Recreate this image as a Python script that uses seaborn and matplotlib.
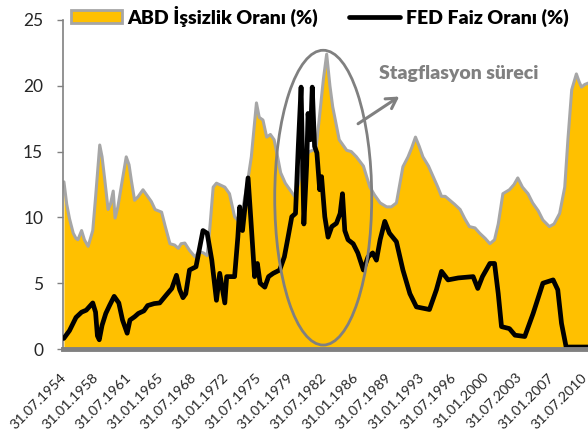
import numpy as np
import pandas as pd
import seaborn as sns
import matplotlib
matplotlib.use("Agg")
import matplotlib.pyplot as plt
from matplotlib.patches import Ellipse, Patch
from matplotlib.lines import Line2D

# ---------------- data ----------------
unemp_year = [1954.6, 1954.9, 1955.2, 1955.6, 1955.9, 1956.1, 1956.5, 1956.8, 1957.2, 1957.7,
              1958.0, 1958.45, 1958.7, 1959.0, 1959.35, 1959.6, 1959.9, 1960.1, 1960.4, 1960.8,
              1961.3, 1961.6, 1961.85, 1962.2, 1962.6, 1963.1, 1963.6, 1964.0, 1964.4, 1965.1,
              1965.5, 1966.0, 1966.5, 1966.9, 1967.2, 1967.6, 1968.1, 1968.7, 1969.1, 1969.6,
              1970.0, 1970.3, 1970.65, 1971.0, 1971.9, 1972.4, 1972.95, 1973.5, 1973.8, 1974.3,
              1974.75, 1975.3, 1975.6, 1976.0, 1976.4, 1976.8, 1977.2, 1977.6, 1977.9, 1978.4,
              1978.9, 1979.4, 1979.8, 1980.3, 1981.0, 1981.7, 1982.1, 1982.5, 1982.85, 1983.2,
              1983.5, 1984.2, 1985.0, 1985.5, 1986.05, 1986.8, 1987.5, 1988.0, 1988.6, 1989.3,
              1989.8, 1990.35, 1991.05, 1991.6, 1992.0, 1992.4, 1992.8, 1993.2, 1993.8, 1994.3,
              1994.8, 1995.2, 1995.6, 1996.1, 1996.6, 1997.2, 1997.7, 1998.2, 1998.8, 1999.3,
              1999.9, 2000.4, 2000.9, 2001.3, 2001.8, 2002.5, 2003.0, 2003.4, 2003.9, 2004.5,
              2005.0, 2005.6, 2006.1, 2006.8, 2007.3, 2007.9, 2008.45, 2008.8, 2009.2, 2009.7,
              2010.0, 2010.25, 2010.6, 2010.95]
unemp_rate = [12.7, 11.0, 9.9, 8.8, 8.4, 8.3, 9.0, 8.3, 7.8, 9.0,
              11.5, 15.5, 14.6, 12.8, 10.6, 11.0, 12.0, 9.95, 10.8, 12.5,
              14.6, 14.0, 12.8, 11.3, 11.6, 12.1, 11.6, 11.2, 10.6, 10.4,
              9.3, 8.0, 7.9, 7.65, 8.0, 8.05, 7.5, 7.0, 7.4, 7.3,
              7.1, 9.3, 12.3, 12.6, 12.3, 11.8, 10.05, 9.6, 10.6, 12.5,
              14.6, 18.7, 17.6, 17.4, 16.1, 16.3, 15.9, 14.5, 13.4, 12.6,
              12.1, 11.6, 12.5, 14.5, 15.0, 15.2, 17.8, 20.5, 22.4, 20.0,
              18.4, 15.9, 15.1, 15.0, 14.6, 13.9, 12.3, 11.7, 11.1, 10.8,
              10.8, 11.1, 13.85, 14.6, 15.3, 16.1, 15.4, 14.6, 13.9, 13.1,
              12.3, 11.6, 11.6, 11.3, 11.0, 10.6, 9.9, 9.3, 9.2, 8.8,
              8.4, 8.0, 8.3, 9.5, 11.8, 12.1, 12.5, 13.0, 12.3, 11.8,
              11.1, 10.5, 9.8, 9.3, 9.5, 10.3, 12.3, 16.0, 19.7, 20.9,
              20.3, 19.9, 20.1, 20.2]

fed_year = [1954.58, 1955.2, 1955.9, 1956.5, 1957.0, 1957.7, 1958.0, 1958.2, 1958.4, 1958.7,
            1959.1, 1959.5, 1960.0, 1960.5, 1960.9, 1961.4, 1961.7, 1962.2, 1962.6, 1963.2,
            1963.6, 1964.3, 1964.9, 1965.6, 1966.2, 1966.7, 1967.05, 1967.4, 1967.7, 1968.1,
            1968.8, 1969.55, 1970.0, 1970.5, 1971.0, 1971.35, 1971.9, 1972.1, 1972.95, 1973.3,
            1973.5, 1973.8, 1974.4, 1974.75, 1975.1, 1975.4, 1975.7, 1976.2, 1976.6, 1977.1,
            1977.8, 1978.3, 1978.7, 1979.1, 1979.5, 1979.8, 1980.1, 1980.4, 1980.7, 1980.85,
            1981.1, 1981.3, 1981.55, 1981.8, 1982.1, 1982.3, 1982.65, 1983.0, 1983.4, 1983.9,
            1984.3, 1984.55, 1984.8, 1985.15, 1985.7, 1986.2, 1986.8, 1987.3, 1987.8, 1988.2,
            1988.6, 1989.1, 1989.6, 1990.35, 1991.05, 1991.8, 1992.5, 1993.9, 1994.65, 1995.2,
            1995.9, 1997.0, 1998.6, 1999.1, 1999.6, 2000.4, 2000.9, 2001.3, 2001.65, 2002.5,
            2003.1, 2004.15, 2005.05, 2006.1, 2007.2, 2007.7, 2008.1, 2008.6, 2010.95]
fed_rate = [0.8, 1.4, 2.4, 2.8, 2.95, 3.5, 2.8, 1.0, 0.7, 1.8,
            2.7, 3.3, 4.0, 3.5, 2.2, 1.2, 2.2, 2.45, 2.7, 2.9,
            3.3, 3.45, 3.5, 4.1, 4.6, 5.6, 4.5, 3.9, 4.2, 6.0,
            6.25, 9.0, 8.8, 6.75, 3.7, 5.75, 3.5, 5.5, 5.5, 8.5,
            10.8, 9.0, 13.0, 9.3, 5.5, 6.5, 5.0, 4.7, 5.5, 5.75,
            6.0, 7.0, 8.5, 10.05, 10.3, 15.4, 19.9, 9.5, 14.0, 17.9,
            15.9, 19.9, 15.4, 14.9, 12.1, 13.1, 10.05, 8.5, 9.3, 9.55,
            10.3, 11.8, 9.0, 8.3, 8.0, 7.3, 6.0, 7.0, 7.3, 6.75,
            8.3, 9.7, 8.8, 8.15, 6.0, 4.2, 3.2, 3.0, 4.5, 5.9,
            5.25, 5.4, 5.5, 4.6, 5.5, 6.5, 6.5, 4.2, 1.7, 1.55,
            1.05, 0.95, 2.7, 5.0, 5.25, 4.5, 1.95, 0.15, 0.15]

tick_years = [1954.58 + 3.5 * i for i in range(17)]
tick_labels = ["31.07.1954", "31.01.1958", "31.07.1961", "31.01.1965", "31.07.1968",
               "31.01.1972", "31.07.1975", "31.01.1979", "31.07.1982", "31.01.1986",
               "31.07.1989", "31.01.1993", "31.07.1996", "31.01.2000", "31.07.2003",
               "31.01.2007", "31.07.2010"]

label_unemp = "ABD İşsizlik Oranı (%)"
label_fed = "FED Faiz Oranı (%)"
annot_text = "Stagflasyon süreci"

# ---------------- style ----------------
sns.set_theme(style="white")
plt.rcParams["font.family"] = ["Lato", "DejaVu Sans"]

W, H = 588, 437
fig = plt.figure(figsize=(W / 100, H / 100), dpi=100)
ax = fig.add_axes([63 / W, 1 - 349 / H, (W - 63) / W, (349 - 20) / H])

df_u = pd.DataFrame({"year": unemp_year, "rate": unemp_rate})
df_f = pd.DataFrame({"year": fed_year, "rate": fed_rate})

ORANGE = "#FFC000"
GREY = "#A6A6A6"
DGREY = "#808080"

ax.fill_between(df_u["year"], 0, df_u["rate"], color=ORANGE, lw=0, zorder=1)
sns.lineplot(data=df_u, x="year", y="rate", ax=ax, color=GREY, lw=2.2, zorder=2,
             estimator=None, sort=False)
sns.lineplot(data=df_f, x="year", y="rate", ax=ax, color="black", lw=3.4, zorder=3,
             estimator=None, sort=False, solid_joinstyle="round")

ax.set_xlim(1954.5, 2010.95)
ax.set_ylim(0, 25)
ax.set_yticks([0, 5, 10, 15, 20, 25])
ax.set_xticks(tick_years)
ax.set_xticklabels(tick_labels, rotation=45, ha="right", va="center",
                   rotation_mode="anchor", fontsize=10.3, color="#262626")
ax.tick_params(axis="x", length=0, pad=19)
ax.tick_params(axis="y", length=4.3, width=1, color=DGREY, direction="out",
               pad=10, labelsize=12.5, labelcolor="#262626", left=True)
ax.set_xlabel("")
ax.set_ylabel("")

for s in ["top", "right"]:
    ax.spines[s].set_visible(False)
ax.spines["left"].set_color(DGREY)
ax.spines["left"].set_linewidth(1.2)
ax.spines["bottom"].set_color(DGREY)
ax.spines["bottom"].set_linewidth(3.5)
ax.spines["bottom"].set_zorder(5)

# ellipse and arrow annotation
ell = Ellipse((1982.48, 11.5), 10.43, 22.4, fill=False, edgecolor=DGREY, lw=2, zorder=6)
ax.add_patch(ell)
ax.annotate("", xy=(1990.9, 19.3), xytext=(1985.98, 17.0),
            arrowprops=dict(arrowstyle="->,head_length=0.6,head_width=0.35",
                            color=DGREY, lw=2.2), zorder=6)
fig.text(459 / W, 1 - 74 / H, annot_text, ha="center", va="center",
         fontsize=14, fontweight="heavy", color=DGREY)

# legend
handles = [Patch(facecolor=ORANGE, edgecolor=GREY, lw=2),
           Line2D([0], [0], color="black", lw=3.4)]
leg = fig.legend(handles, [label_unemp, label_fed], ncol=2, loc="center left",
                 bbox_to_anchor=(71 / W, 1 - 16 / H), frameon=False,
                 prop={"weight": "heavy", "size": 14}, handlelength=2.6,
                 handletextpad=0.3, columnspacing=1.6, borderpad=0, borderaxespad=0)
for t in leg.get_texts():
    t.set_color("black")

fig.savefig("out.png", dpi=100)
